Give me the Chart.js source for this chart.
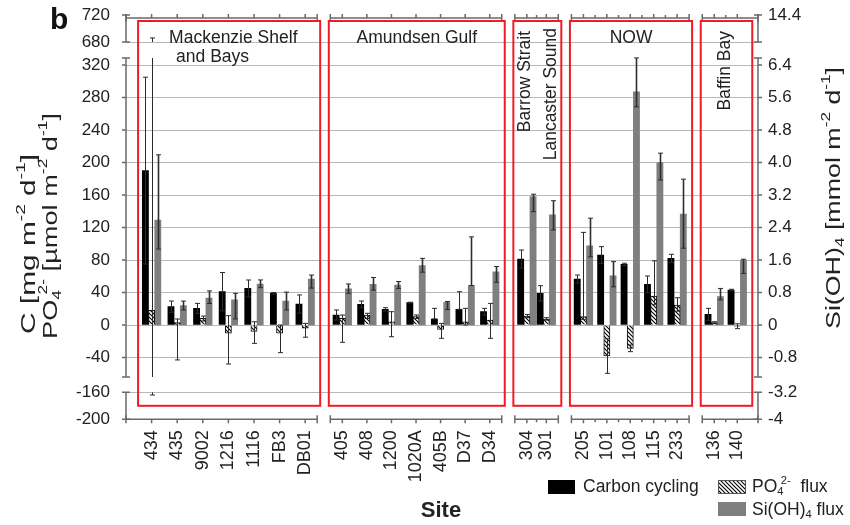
<!DOCTYPE html>
<html><head><meta charset="utf-8">
<script src="https://cdn.jsdelivr.net/npm/chart.js@4.4.0/dist/chart.umd.min.js"></script>
<style>html,body{margin:0;padding:0;background:#fff;}#wrap{width:850px;height:525px;}</style>
</head><body><div id="wrap"><canvas id="c" width="850" height="525"></canvas></div>
<script>
// ---------------- DATA ----------------
const GROUP_NAMES = ['Mackenzie Shelf and Bays', 'Amundsen Gulf', 'Barrow Strait', 'Lancaster Sound', 'NOW', 'Baffin Bay'];
const GROUP_SIZES = [7, 7, 2, 5, 2];
const SITES = ['434','435','9002','1216','1116','FB3','DB01','405','408','1200','1020A','405B','D37','D34','304','301','205','101','108','115','233','136','140'];
// Carbon cycling [mg m-2 d-1]
const CARBON    = [190, 22.6, 20.5, 41, 45, 39, 25.8, 12.3, 25.4, 19.3, 27.5, 7.4, 19.3, 16.4, 81.2, 39, 56.6, 86.2, 74.7, 50, 82, 13.1, 43];
const CARBON_HI = [305, 29.5, 26.6, 64.6, 55.4, 40, 37, 18.5, 29.5, 21.3, 28, 20.5, 41, 20.5, 92.3, 48.4, 61.5, 96.4, 76, 60.3, 87, 20.5, 44];
const CARBON_LO = [75, 15.7, 14.4, 17.4, 34.6, 38, 14.6, 6.1, 21.3, 17.3, 27, 7.4, 19.3, 12.3, 70.1, 29.6, 51.7, 76, 73.4, 39.7, 77, 5.7, 42];
// PO4 flux [umol m-2 d-1]
const PO4    = [18, 3, 8.2, -10, -8, -10, -4, 8.2, 12.3, 4, 10.3, -5.3, 4, 6.2, 11, 7.4, 10.3, -38, -28.7, 35.7, 24.6, 3, -1.5];
const PO4_HI = [686, 7.4, 11, 11.5, 4, 0, 2, 12.3, 14.4, 16.4, 12.3, 2, 20.5, 26.6, 13, 9, 114, -17, -24.6, 79, 33.6, 4, 1.5];
const PO4_LO = [-164, -43, 5, -48, -22.6, -34, -15, -21.3, 8, -14.4, 8, -16.4, 0, -16.4, 9, 6, 7, -59.5, -32.8, 25, 17, 2, -4.5];
// Si(OH)4 flux [mmol m-2 d-1]
const SI    = [2.58, 0.48, 0.66, 0.62, 1.01, 0.59, 1.13, 0.89, 1.0, 0.98, 1.46, 0.56, 0.97, 1.31, 3.16, 2.71, 1.95, 1.21, 5.74, 4.0, 2.73, 0.7, 1.6];
const SI_HI = [4.19, 0.59, 0.84, 0.78, 1.11, 0.81, 1.23, 1.01, 1.17, 1.07, 1.64, 0.58, 2.17, 1.44, 3.22, 3.06, 2.63, 1.56, 6.62, 4.23, 3.59, 0.9, 1.62];
const SI_LO = [1.87, 0.37, 0.53, 0.15, 0.92, 0.37, 0.91, 0.78, 0.86, 0.9, 1.3, 0.38, 0.97, 1.05, 2.79, 2.34, 1.68, 0.94, 5.37, 3.57, 1.89, 0.62, 1.27];
// tick labels
const LEFT_TICKS  = [720, 680, 320, 280, 240, 200, 160, 120, 80, 40, 0, -40, -160, -200];
const RIGHT_TICKS = [14.4, 6.4, 5.6, 4.8, 4.0, 3.2, 2.4, 1.6, 0.8, 0, -0.8, -3.2, -4];

// ---------------- LAYOUT (axis geometry) ----------------
const SI_FACTOR = 50;                      // right axis = left axis / 50
const AXIS_BREAKS = [[-200,0],[-160,0.0668],[-64,0.1046],[328.6,0.8936],[680,0.9332],[720,1]];
const AXIS_SEGMENTS = [[680,720],[-64,328.6],[-200,-160]];
const PANEL_STEP = [1.0, 0.96, 0.76, 0.915, 0.9];
const PANEL_GAP = 1.45, FIRST_POS = 1.0, X_MAX = 24.69;
const FONT = 'Arial, "Liberation Sans", Helvetica, sans-serif';
const TXT = '#222';

const POS = []; const PANEL_IDX = [];
(function(){ let cur = FIRST_POS; GROUP_SIZES.forEach((n,g)=>{ for(let i=0;i<n;i++){POS.push(cur+i*PANEL_STEP[g]); PANEL_IDX.push(g);} cur = POS[POS.length-1] + PANEL_GAP; }); })();

// ---------------- broken linear scale ----------------
const FACTOR = { y: 1, y2: SI_FACTOR };
function toDec(v){
  const b = AXIS_BREAKS; let i = 0;
  if (v <= b[0][0]) i = 0; else if (v >= b[b.length-1][0]) i = b.length-2;
  else { while (!(v >= b[i][0] && v <= b[i+1][0])) i++; }
  return b[i][1] + (v - b[i][0]) * (b[i+1][1]-b[i][1]) / (b[i+1][0]-b[i][0]);
}
function fromDec(d){
  const b = AXIS_BREAKS; let i = 0;
  if (d <= b[0][1]) i = 0; else if (d >= b[b.length-1][1]) i = b.length-2;
  else { while (!(d >= b[i][1] && d <= b[i+1][1])) i++; }
  return b[i][0] + (d - b[i][1]) * (b[i+1][0]-b[i][0]) / (b[i+1][1]-b[i][1]);
}
class BrokenScale extends Chart.LinearScale {
  getPixelForValue(value){
    if (value === null || value === undefined || isNaN(value)) return NaN;
    return this.getPixelForDecimal(toDec(value * (FACTOR[this.id] || 1)));
  }
  getValueForPixel(pixel){ return fromDec(this.getDecimalForPixel(pixel)) / (FACTOR[this.id] || 1); }
}
BrokenScale.id = 'broken';
BrokenScale.defaults = Chart.LinearScale.defaults;
Chart.register(BrokenScale);

// ---------------- helpers ----------------
const canvas = document.getElementById('c');
function makeHatch(){
  const c = document.createElement('canvas'); c.width = 4; c.height = 4;
  const g = c.getContext('2d');
  g.fillStyle = '#fff'; g.fillRect(0,0,4,4);
  g.strokeStyle = '#000'; g.lineWidth = 1.1;
  g.beginPath(); g.moveTo(-1,-1); g.lineTo(5,5); g.moveTo(-1,3); g.lineTo(1,5); g.moveTo(3,-1); g.lineTo(5,1); g.stroke();
  return canvas.getContext('2d').createPattern(c, 'repeat');
}
const HATCH = makeHatch();

// rich text: strings, {sub}, {sup}, {sub,sup}; optional target length (stretch along reading direction)
function drawRich(ctx, parts, x, y, size, o = {}){
  const rot = o.rot || 0, align = o.align || 'center', bold = o.bold ? 'bold ' : '';
  const F = s => bold + s + 'px ' + FONT;
  const sm = size * 0.64;
  const items = []; let w = 0;
  for (const p of parts){
    if (typeof p === 'string'){ ctx.font = F(size); items.push({t:p, dx:w, dy:0, f:F(size)}); w += ctx.measureText(p).width; }
    else {
      let mw = 0; ctx.font = F(sm);
      if (p.sub){ items.push({t:p.sub, dx:w, dy:size*0.3, f:F(sm)}); mw = Math.max(mw, ctx.measureText(p.sub).width); }
      if (p.sup){ const sh = p.sub ? ctx.measureText(p.sub).width*0.55 : 0; items.push({t:p.sup, dx:w+sh, dy:-size*0.36, f:F(sm)}); mw = Math.max(mw, sh + ctx.measureText(p.sup).width); }
      w += mw;
    }
  }
  const sx = o.length ? o.length / w : 1;
  ctx.save(); ctx.translate(x, y); ctx.rotate(rot); ctx.scale(sx, 1);
  ctx.fillStyle = o.color || TXT; ctx.textBaseline = 'middle'; ctx.textAlign = 'left';
  const x0 = align === 'center' ? -w/2 : (align === 'right' ? -w : 0);
  for (const it of items){ ctx.font = it.f; ctx.fillText(it.t, x0 + it.dx, it.dy); }
  ctx.restore();
}

function groupRange(g){
  let s = 0; for (let i=0;i<g;i++) s += GROUP_SIZES[i];
  return [s, s + GROUP_SIZES[g] - 1];
}

// ---------------- plugins ----------------
const errorBars = {
  id: 'errorBars',
  afterDatasetsDraw(chart){
    const ctx = chart.ctx, yl = chart.scales.y;
    const segs = AXIS_SEGMENTS.map(([a,b]) => [yl.getPixelForValue(b), yl.getPixelForValue(a)]);
    const sets = [[CARBON_LO, CARBON_HI, '#2b2b2b', 1], [PO4_LO, PO4_HI, '#2b2b2b', 1], [SI_LO, SI_HI, '#2e2e2e', 1.6]];
    ctx.save();
    sets.forEach(([lo, hi, col, lw], d) => {
      const meta = chart.getDatasetMeta(d);
      const ys = chart.scales[meta.yAxisID];
      meta.data.forEach((el, i) => {
        const x = Math.round(el.x) + 0.5;
        const pH = ys.getPixelForValue(hi[i]), pL = ys.getPixelForValue(lo[i]);
        ctx.strokeStyle = col; ctx.lineWidth = lw;
        ctx.beginPath();
        for (const [t, b] of segs){
          const a1 = Math.max(t, pH), b1 = Math.min(b, pL);
          if (b1 > a1){ ctx.moveTo(x, a1); ctx.lineTo(x, b1); }
        }
        ctx.stroke();
        ctx.lineWidth = 1;
        ctx.beginPath();
        ctx.moveTo(x-2.5, pH); ctx.lineTo(x+2.5, pH);
        ctx.moveTo(x-2.5, pL); ctx.lineTo(x+2.5, pL);
        ctx.stroke();
      });
    });
    ctx.restore();
  }
};

const decor = {
  id: 'decor',
  afterDraw(chart){
    const ctx = chart.ctx, ca = chart.chartArea, xs = chart.scales.x, yl = chart.scales.y, yr = chart.scales.y2;
    ctx.save();
    // broken y axes
    ctx.strokeStyle = '#6a6a6a'; ctx.lineWidth = 1.5;
    [[ca.left, -1, yl, LEFT_TICKS, 1], [ca.right, 1, yr, RIGHT_TICKS, SI_FACTOR]].forEach(([ax, dir, sc, ticks, f]) => {
      ctx.beginPath();
      for (const [a,b] of AXIS_SEGMENTS){
        const t = sc.getPixelForValue(b/f), bt = sc.getPixelForValue(a/f);
        ctx.moveTo(ax, t); ctx.lineTo(ax, bt);
        ctx.moveTo(ax-4, t); ctx.lineTo(ax+4, t);
        ctx.moveTo(ax-4, bt); ctx.lineTo(ax+4, bt);
      }
      for (const v of ticks){ const p = sc.getPixelForValue(v); ctx.moveTo(ax, p); ctx.lineTo(ax + dir*4, p); }
      ctx.stroke();
    });
    // broken x axes (bottom and top)
    const nG = GROUP_SIZES.length;
    for (let g=0; g<nG; g++){
      const [s, e] = groupRange(g);
      const l = g === 0 ? ca.left : xs.getPixelForValue(POS[s]) - 12;
      const r = g === nG-1 ? ca.right : xs.getPixelForValue(POS[e]) + 12;
      [[ca.bottom, 1], [ca.top + 3, -1]].forEach(([yy, dir]) => {
        ctx.beginPath();
        ctx.moveTo(l, yy); ctx.lineTo(r, yy);
        ctx.moveTo(l, yy-4); ctx.lineTo(l, yy+4);
        ctx.moveTo(r, yy-4); ctx.lineTo(r, yy+4);
        for (let i=s; i<=e; i++){
          const p = xs.getPixelForValue(POS[i]); ctx.moveTo(p, yy); ctx.lineTo(p, yy + dir*4);
          if (g >= 2 && i < e){ const m = xs.getPixelForValue((POS[i]+POS[i+1])/2); ctx.moveTo(m, yy); ctx.lineTo(m, yy + dir*3); }
        }
        ctx.stroke();
      });
    }
    // red panel boxes
    ctx.strokeStyle = '#ee1c24'; ctx.lineWidth = 2;
    const boxes = [];
    for (let g=0; g<nG; g++){
      const [s, e] = groupRange(g);
      const l = xs.getPixelForValue(POS[s]) - 13.5, r = xs.getPixelForValue(POS[e]) + 15;
      const t = ca.top + 6, b = ca.bottom - 13.5;
      boxes.push([l, r, t, b]);
      ctx.strokeRect(l, t, r - l, b - t);
    }
    // panel labels
    ctx.fillStyle = TXT; ctx.font = '17.5px ' + FONT; ctx.textBaseline = 'middle';
    ctx.textAlign = 'left';
    ctx.fillText('Mackenzie Shelf', boxes[0][0] + 31, 38);
    ctx.fillText('and Bays', boxes[0][0] + 38, 57);
    ctx.textAlign = 'center';
    ctx.fillText(GROUP_NAMES[1], (boxes[1][0] + boxes[1][1]) / 2, 38);
    ctx.fillText(GROUP_NAMES[4], (boxes[3][0] + boxes[3][1]) / 2, 38);
    const vtext = (t, x, y) => { ctx.save(); ctx.translate(x, y); ctx.rotate(-Math.PI/2); ctx.textAlign = 'right'; ctx.fillText(t, 0, 0); ctx.restore(); };
    vtext(GROUP_NAMES[2], boxes[2][0] + 12, 31);
    vtext(GROUP_NAMES[3], boxes[2][0] + 38, 28);
    vtext(GROUP_NAMES[5], boxes[4][0] + 24, 31);
    // panel letter
    ctx.textAlign = 'left'; ctx.textBaseline = 'alphabetic';
    ctx.font = 'bold 30px ' + FONT; ctx.fillStyle = '#111';
    ctx.fillText('b', 50, 29);
    // axis titles
    drawRich(ctx, ['C [mg m', {sup:'-2'}, ' d', {sup:'-1'}, ']'], 29, 244, 21, {rot:-Math.PI/2, length:180});
    drawRich(ctx, ['PO', {sub:'4', sup:'2-'}, ' [\u00b5mol m', {sup:'-2'}, ' d', {sup:'-1'}, ']'], 51, 226, 21, {rot:-Math.PI/2, length:226});
    drawRich(ctx, ['Si(OH)', {sub:'4'}, ' [mmol m', {sup:'-2'}, ' d', {sup:'-1'}, ']'], 834, 198, 21, {rot:-Math.PI/2, length:262});
    drawRich(ctx, ['Site'], 441, 511, 22, {bold:true});
    // legend
    ctx.fillStyle = '#000'; ctx.fillRect(548, 480, 27, 14);
    ctx.fillStyle = HATCH; ctx.fillRect(718, 480, 28, 14);
    ctx.strokeStyle = '#555'; ctx.lineWidth = 1; ctx.strokeRect(718.5, 480.5, 27, 13);
    ctx.fillStyle = '#7f7f7f'; ctx.fillRect(718, 502, 28, 14);
    drawRich(ctx, ['Carbon cycling'], 583, 487, 17.5, {align:'left'});
    drawRich(ctx, ['PO', {sub:'4', sup:'2-'}, '  flux'], 752, 487, 17.5, {align:'left'});
    drawRich(ctx, ['Si(OH)', {sub:'4'}, ' flux'], 752, 510, 17.5, {align:'left'});
    ctx.restore();
  }
};

// ---------------- chart ----------------
const pts = arr => POS.map((x, i) => ({x, y: arr[i]}));
const noPad = s => { s.paddingTop = 0; s.paddingBottom = 0; };
new Chart(canvas, {
  type: 'bar',
  data: {
    datasets: [
      { label: 'Carbon cycling', data: pts(CARBON), backgroundColor: '#000', yAxisID: 'y', barThickness: 6.2 },
      { label: 'PO4 flux', data: pts(PO4), backgroundColor: HATCH, borderColor: '#111', borderWidth: 1, yAxisID: 'y', barThickness: 6.2 },
      { label: 'Si(OH)4 flux', data: pts(SI), backgroundColor: '#7f7f7f', yAxisID: 'y2', barThickness: 6.2 }
    ]
  },
  options: {
    responsive: false, animation: false, devicePixelRatio: 1,
    layout: { padding: { top: 15, left: 0, right: 0, bottom: 0 } },
    plugins: { legend: { display: false }, tooltip: { enabled: false }, title: { display: false } },
    scales: {
      x: {
        type: 'linear', min: 0, max: X_MAX, position: 'bottom', offset: false,
        grid: { display: false, drawTicks: false, offset: false }, border: { display: false },
        afterBuildTicks: s => { s.ticks = POS.map(v => ({ value: v })); },
        afterFit: s => { s.height = 105.7; s.paddingLeft = 0; s.paddingRight = 0; },
        ticks: { autoSkip: false, minRotation: 90, maxRotation: 90, padding: 11, color: TXT,
                 font: { family: FONT, size: 18 }, callback: (v, i) => SITES[i] }
      },
      y: {
        type: 'broken', position: 'left', min: -200, max: 720,
        grid: { drawTicks: false, lineWidth: 1, borderDash: [1.5, 2.5],
                color: c => (c.tick && (c.tick.value === 720 || c.tick.value === -200)) ? 'rgba(0,0,0,0)' : '#b8b8b8' },
        border: { display: false },
        afterBuildTicks: s => { s.ticks = LEFT_TICKS.map(v => ({ value: v })); },
        afterFit: s => { s.width = 126; noPad(s); },
        ticks: { autoSkip: false, padding: 16, color: TXT, font: { family: FONT, size: 17 }, callback: v => String(v) }
      },
      y2: {
        type: 'broken', position: 'right', min: -4, max: 14.4,
        grid: { display: false, drawTicks: false }, border: { display: false },
        afterBuildTicks: s => { s.ticks = RIGHT_TICKS.map(v => ({ value: v })); },
        afterFit: s => { s.width = 92; noPad(s); },
        ticks: { autoSkip: false, padding: 10, color: TXT, font: { family: FONT, size: 17 },
                 callback: v => (v === 0 || v === -4) ? String(v) : v.toFixed(1) }
      }
    }
  },
  plugins: [errorBars, decor]
});
</script></body></html>
